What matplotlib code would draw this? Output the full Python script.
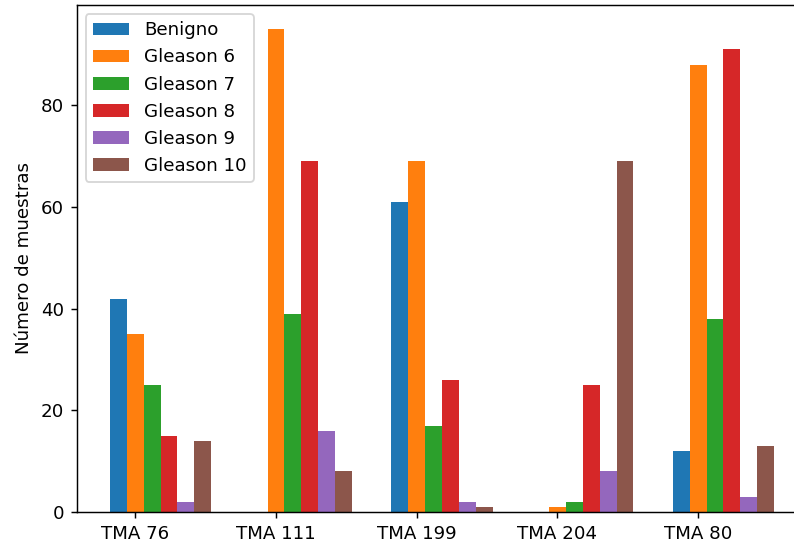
import numpy as np
import matplotlib
matplotlib.use("Agg")
import matplotlib.pyplot as plt

tmas = ["TMA 76", "TMA 111", "TMA 199", "TMA 204", "TMA 80"]
labels = ["Benigno", "Gleason 6", "Gleason 7", "Gleason 8", "Gleason 9", "Gleason 10"]

benigno = [42, 0, 61, 0, 12]
gleason6 = [35, 95, 69, 1, 88]
gleason7 = [25, 39, 17, 2, 38]
gleason8 = [15, 69, 26, 25, 91]
gleason9 = [2, 16, 2, 8, 3]
gleason10 = [14, 8, 1, 69, 13]

series = [benigno, gleason6, gleason7, gleason8, gleason9, gleason10]

dpi = 131
fig = plt.figure(figsize=(795 / dpi, 546 / dpi), dpi=dpi)
# the original picture was cropped on the right, so the axes run past the edge
ax = fig.add_axes([0.0965, 0.0623, 0.919, 0.9286])

x = np.arange(len(tmas))
w = 0.12
for i, (vals, lab) in enumerate(zip(series, labels)):
    ax.bar(x + (i - 1) * w, vals, w, label=lab)

ax.set_xticks(x)
ax.set_xticklabels(tmas)
ax.set_ylabel("Número de muestras")
ax.legend(loc="upper left")
ax.spines["right"].set_visible(False)  # cut off in the original anyway

fig.savefig("out.png", dpi=dpi)
